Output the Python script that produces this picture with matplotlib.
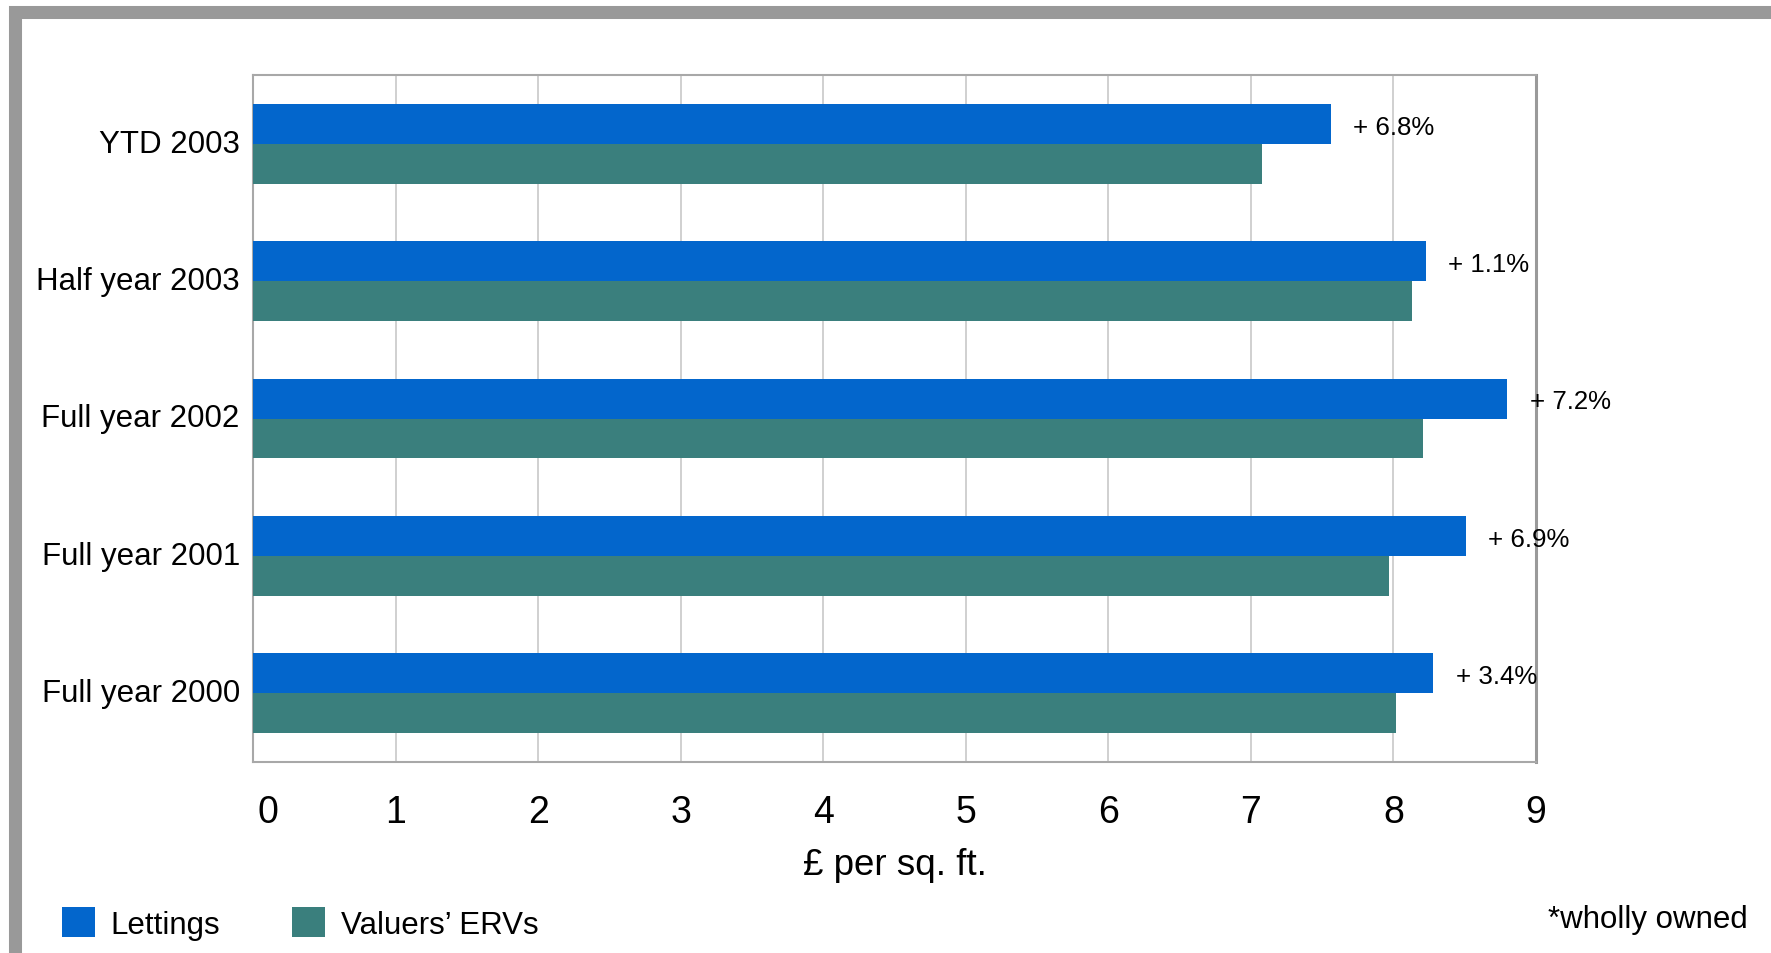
import matplotlib
matplotlib.use("Agg")
import matplotlib.pyplot as plt
import matplotlib.transforms as mtransforms
from matplotlib.patches import Rectangle
import numpy as np

plt.rcParams['font.family'] = ['Liberation Sans', 'DejaVu Sans']

# data
categories = ["YTD 2003", "Half year 2003", "Full year 2002", "Full year 2001", "Full year 2000"]
lettings = [7.56, 8.23, 8.80, 8.51, 8.28]
valuers = [7.08, 8.13, 8.21, 7.97, 8.02]
pct_labels = ["+ 6.8%", "+ 1.1%", "+ 7.2%", "+ 6.9%", "+ 3.4%"]
xticks = [0, 1, 2, 3, 4, 5, 6, 7, 8, 9]

blue = "#0366CC"
teal = "#3A7F7D"

W, H = 1771, 954
fig = plt.figure(figsize=(W / 100, H / 100), dpi=100)
ax = fig.add_axes([253 / W, 1 - 763 / H, (1536 - 253) / W, (763 - 76) / H])

y = np.arange(len(categories))
bh = 0.29
b1 = ax.barh(y - bh / 2, lettings, height=bh, color=blue, label="Lettings", zorder=3)
b2 = ax.barh(y + bh / 2, valuers, height=bh, color=teal, label="Valuers\u2019 ERVs", zorder=3)

for yi, v, txt in zip(y, lettings, pct_labels):
    ax.annotate(txt, xy=(v, yi - bh / 2 + 0.02), xytext=(16, 0), textcoords="offset points",
                va="center", ha="left", fontsize=18.6, zorder=4)

ax.set_xlim(0, 9)
ax.set_ylim(len(categories) - 0.5, -0.5)
ax.set_yticks(y)
ax.set_yticklabels(categories, fontsize=22.5)
ax.set_xticks(xticks)
ax.set_xticklabels([str(t) for t in xticks], fontsize=27)
ax.tick_params(axis="both", length=0)
ax.tick_params(axis="y", pad=9.5)
ax.tick_params(axis="x", pad=23)

# first tick label sits a bit to the right of the axis
lbl0 = ax.get_xticklabels()[0]
lbl0.set_transform(lbl0.get_transform() + mtransforms.ScaledTranslation(0.15, 0, fig.dpi_scale_trans))
# category labels sit slightly above the group centre
for lbl in ax.get_yticklabels():
    lbl.set_transform(lbl.get_transform() + mtransforms.ScaledTranslation(0, 0.035, fig.dpi_scale_trans))

ax.grid(axis="x", color="#C8C8C8", lw=1.2, zorder=0)
ax.set_axisbelow(True)
for side in ["left", "top", "bottom"]:
    ax.spines[side].set_color("#A8A8A8")
    ax.spines[side].set_linewidth(1.5)
ax.spines["right"].set_color("#9A9A9A")
ax.spines["right"].set_linewidth(2.2)

ax.text(0.5, 1 - (865.5 - 76) / (763 - 76), "\u00a3 per sq. ft.", transform=ax.transAxes,
        ha="center", va="center", fontsize=26.5)

fig.legend(handles=[b1, b2], loc="center left", bbox_to_anchor=(62 / W, 1 - 924.5 / H),
           ncol=2, frameon=False, fontsize=22.5, borderpad=0, borderaxespad=0,
           handlelength=1.06, handleheight=1.06, handletextpad=0.5, columnspacing=2.3)

fig.text(1748 / W, 1 - 920 / H, "*wholly owned", ha="right", va="center", fontsize=22.5)

# grey outer frame
fig.add_artist(Rectangle((15 / W, -2.5 / H), (1774.5 - 15) / W, (956.5 - 12.5) / H,
                         transform=fig.transFigure, fill=False, ec="#999999", lw=9.4,
                         joinstyle="miter", clip_on=False))

fig.savefig("out.png", dpi=100)
